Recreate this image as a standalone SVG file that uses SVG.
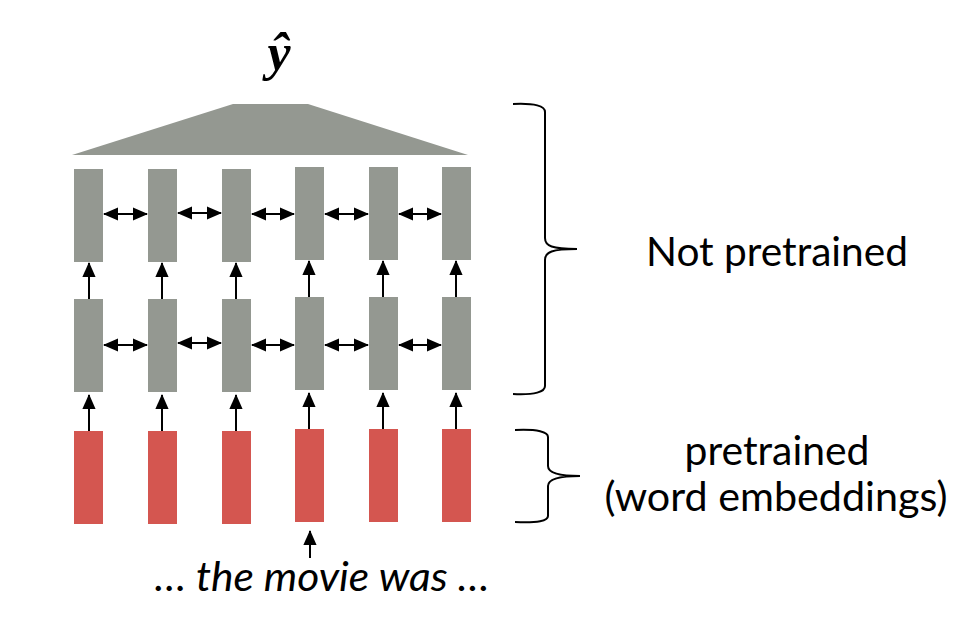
<svg xmlns="http://www.w3.org/2000/svg" width="976" height="640" viewBox="0 0 976 640">
<style>
.g{fill:#949891}
.r{fill:#D45650}
.c{stroke:#000;stroke-width:2;fill:none}
.br{stroke:#000;stroke-width:2;fill:none}
.t{font-family:Lato,"Open Sans","Liberation Sans",sans-serif;font-size:40px;fill:#000}
.m{font-family:"Liberation Serif",serif;font-weight:bold;font-style:italic;fill:#000}
</style>
<defs>
<marker id="ah" markerWidth="7.5" markerHeight="6.6" refX="7" refY="3.3" orient="auto-start-reverse" markerUnits="strokeWidth">
<path d="M0,0 L7.5,3.3 L0,6.6 Z" fill="#000"/>
</marker>
</defs>
<rect width="976" height="640" fill="#fff"/>
<g id="yhat">
<text class="m" x="279" y="70" text-anchor="middle" font-size="52">ŷ</text>
</g>
<g id="pool"><polygon class="g" points="233,104 308,104 468,155 72,155"/></g>
<g id="top">
<rect class="g" x="74" y="169" width="29" height="93"/>
<rect class="g" x="148" y="169" width="29" height="93"/>
<rect class="g" x="222" y="169" width="29" height="93"/>
<rect class="g" x="295" y="167" width="29" height="93"/>
<rect class="g" x="369" y="167" width="29" height="93"/>
<rect class="g" x="442" y="167" width="29" height="93"/>
</g>
<g id="mid">
<rect class="g" x="74" y="299" width="29" height="93"/>
<rect class="g" x="148" y="299" width="29" height="93"/>
<rect class="g" x="222" y="299" width="29" height="93"/>
<rect class="g" x="295" y="297" width="29" height="93"/>
<rect class="g" x="369" y="297" width="29" height="93"/>
<rect class="g" x="442" y="297" width="29" height="93"/>
</g>
<g id="emb">
<rect class="r" x="74" y="431" width="29" height="93"/>
<rect class="r" x="148" y="431" width="29" height="93"/>
<rect class="r" x="222" y="431" width="29" height="93"/>
<rect class="r" x="295" y="429" width="29" height="93"/>
<rect class="r" x="369" y="429" width="29" height="93"/>
<rect class="r" x="442" y="429" width="29" height="93"/>
</g>
<g id="connectors">
<line class="c" x1="104" y1="214" x2="147" y2="214" marker-start="url(#ah)" marker-end="url(#ah)"/>
<line class="c" x1="178" y1="213" x2="221" y2="213" marker-start="url(#ah)" marker-end="url(#ah)"/>
<line class="c" x1="252" y1="214" x2="294" y2="214" marker-start="url(#ah)" marker-end="url(#ah)"/>
<line class="c" x1="325" y1="214" x2="368" y2="214" marker-start="url(#ah)" marker-end="url(#ah)"/>
<line class="c" x1="399" y1="214" x2="441" y2="214" marker-start="url(#ah)" marker-end="url(#ah)"/>
<line class="c" x1="104" y1="345" x2="147" y2="345" marker-start="url(#ah)" marker-end="url(#ah)"/>
<line class="c" x1="178" y1="343" x2="221" y2="343" marker-start="url(#ah)" marker-end="url(#ah)"/>
<line class="c" x1="252" y1="345" x2="294" y2="345" marker-start="url(#ah)" marker-end="url(#ah)"/>
<line class="c" x1="325" y1="345" x2="368" y2="345" marker-start="url(#ah)" marker-end="url(#ah)"/>
<line class="c" x1="399" y1="345" x2="441" y2="345" marker-start="url(#ah)" marker-end="url(#ah)"/>
<line class="c" x1="89" y1="299" x2="89" y2="263" marker-end="url(#ah)"/>
<line class="c" x1="162" y1="299" x2="162" y2="263" marker-end="url(#ah)"/>
<line class="c" x1="236" y1="299" x2="236" y2="263" marker-end="url(#ah)"/>
<line class="c" x1="309" y1="297" x2="309" y2="261" marker-end="url(#ah)"/>
<line class="c" x1="383" y1="297" x2="383" y2="261" marker-end="url(#ah)"/>
<line class="c" x1="456" y1="297" x2="456" y2="261" marker-end="url(#ah)"/>
<line class="c" x1="89" y1="431" x2="89" y2="395" marker-end="url(#ah)"/>
<line class="c" x1="162" y1="431" x2="162" y2="395" marker-end="url(#ah)"/>
<line class="c" x1="236" y1="431" x2="236" y2="395" marker-end="url(#ah)"/>
<line class="c" x1="309" y1="429" x2="309" y2="393" marker-end="url(#ah)"/>
<line class="c" x1="383" y1="429" x2="383" y2="393" marker-end="url(#ah)"/>
<line class="c" x1="456" y1="429" x2="456" y2="393" marker-end="url(#ah)"/>
<line class="c" x1="310" y1="558" x2="310" y2="531" marker-end="url(#ah)"/>
</g>
<g id="brace-top"><path class="br" d="M513,104 C535,103 545,106 545,112 L545,238 C545,246 552,249 577,249 C552,249 545,252 545,260 L545,386 C545,392 535,395 513,394"/></g>
<g id="brace-bottom"><path class="br" d="M515,430 C538,429 548,432 548,437 L548,466 C548,472 556,476 580,476 C556,476 548,480 548,486 L548,516 C548,521 538,523 515,522"/></g>
<g id="label-notpre"><text class="t" x="777" y="266" text-anchor="middle" textLength="262" lengthAdjust="spacingAndGlyphs">Not pretrained</text></g>
<g id="label-pre">
<text class="t" x="777" y="465" text-anchor="middle" textLength="185" lengthAdjust="spacingAndGlyphs">pretrained</text>
<text class="t" x="776" y="511" text-anchor="middle" textLength="343" lengthAdjust="spacingAndGlyphs">(word embeddings)</text>
</g>
<g id="input"><text class="t" x="322" y="591" text-anchor="middle" font-style="italic" font-size="38" textLength="335" lengthAdjust="spacingAndGlyphs">… the movie was …</text></g>
</svg>
